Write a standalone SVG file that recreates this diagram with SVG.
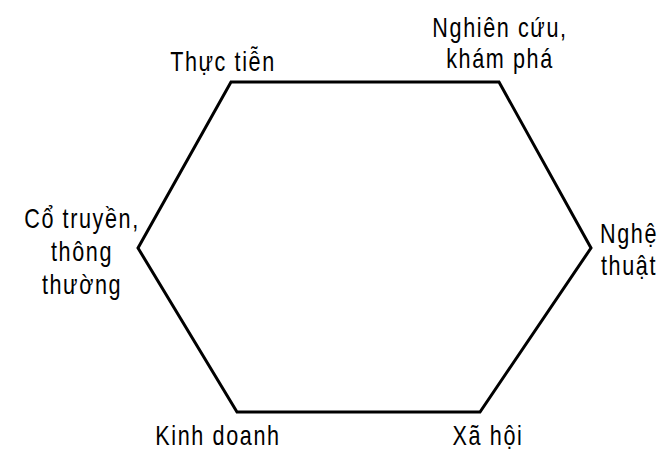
<svg xmlns="http://www.w3.org/2000/svg" width="666" height="451" viewBox="0 0 666 451">
<style>
text{font-family:"Liberation Sans",Arial,sans-serif;font-size:27px;fill:#000;text-anchor:middle;letter-spacing:2px}
.edge{fill:none;stroke:#000;stroke-width:3;stroke-linejoin:miter}
</style>
<rect width="666" height="451" fill="#fff"/>
<g id="connectors">
<polygon class="edge" points="231,82 499,82 591,248 480,412 237,412 138,248"/>
</g>
<g id="n-thuctien"><text transform="translate(223,71) scale(0.8,1)">Thực tiễn</text></g>
<g id="n-nghiencuu"><text transform="translate(500,37) scale(0.8,1)">Nghiên cứu,</text><text transform="translate(500,68) scale(0.8,1)">khám phá</text></g>
<g id="n-nghethuat"><text transform="translate(629,243) scale(0.8,1)">Nghệ</text><text transform="translate(629,275) scale(0.8,1)">thuật</text></g>
<g id="n-cotruyen"><text transform="translate(82,228) scale(0.8,1)">Cổ truyền,</text><text transform="translate(82,261) scale(0.8,1)">thông</text><text transform="translate(82,294) scale(0.8,1)">thường</text></g>
<g id="n-kinhdoanh"><text transform="translate(218,445) scale(0.8,1)">Kinh doanh</text></g>
<g id="n-xahoi"><text transform="translate(488,445) scale(0.8,1)">Xã hội</text></g>
</svg>
